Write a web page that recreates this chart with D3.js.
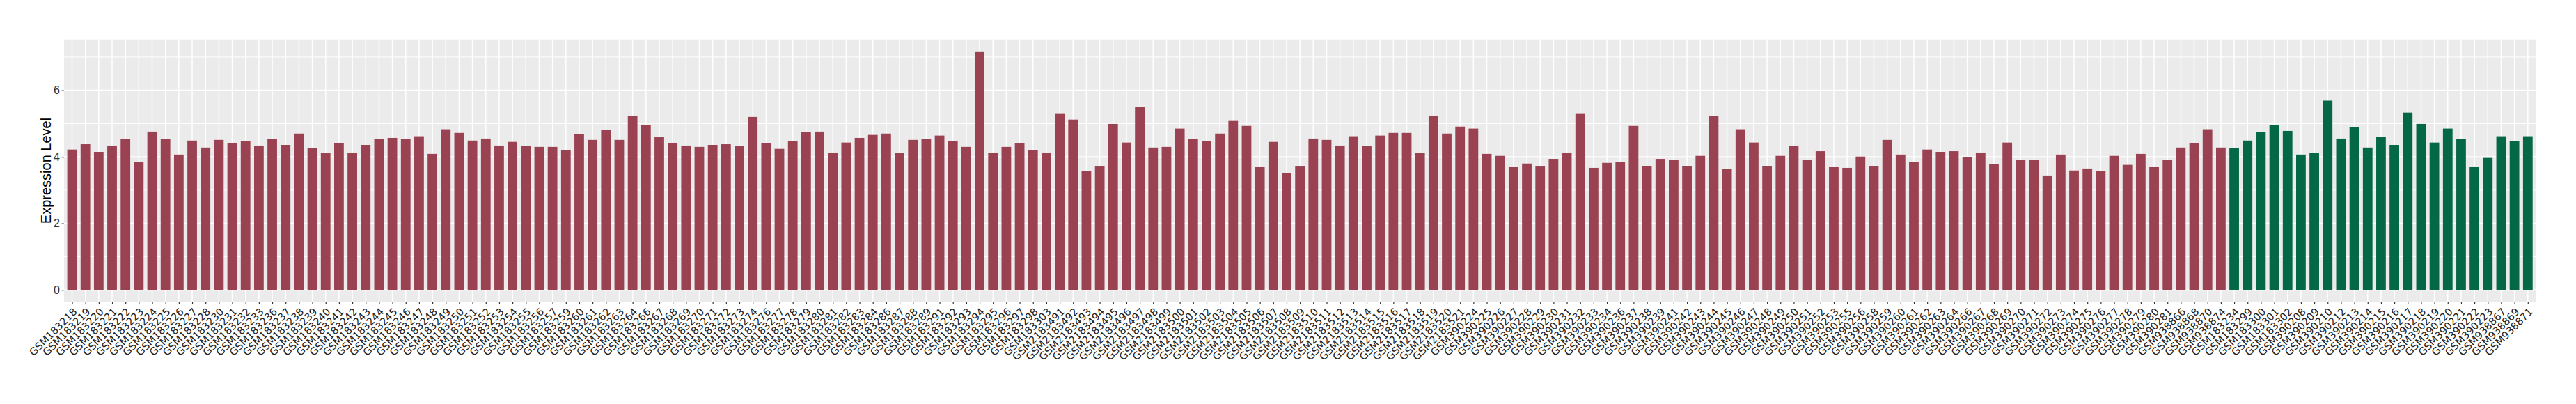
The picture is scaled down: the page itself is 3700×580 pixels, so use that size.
<!DOCTYPE html>
<html>
<head>
<meta charset="utf-8">
<script src="https://cdn.jsdelivr.net/npm/d3@7"></script>
<style>
  html, body { margin: 0; padding: 0; background: #ffffff; }
  #chart { width: 3700px; height: 580px; }
</style>
</head>
<body>
<div id="chart"></div>
<script>
// sample ids, in plot order
const samples = [
  'GSM183218', 'GSM183219', 'GSM183220', 'GSM183221', 'GSM183222', 'GSM183223', 'GSM183224', 'GSM183225',
  'GSM183226', 'GSM183227', 'GSM183228', 'GSM183230', 'GSM183231', 'GSM183232', 'GSM183233', 'GSM183236',
  'GSM183237', 'GSM183238', 'GSM183239', 'GSM183240', 'GSM183241', 'GSM183242', 'GSM183243', 'GSM183244',
  'GSM183245', 'GSM183246', 'GSM183247', 'GSM183248', 'GSM183249', 'GSM183250', 'GSM183251', 'GSM183252',
  'GSM183253', 'GSM183254', 'GSM183255', 'GSM183256', 'GSM183257', 'GSM183259', 'GSM183260', 'GSM183261',
  'GSM183262', 'GSM183263', 'GSM183264', 'GSM183266', 'GSM183267', 'GSM183268', 'GSM183269', 'GSM183270',
  'GSM183271', 'GSM183272', 'GSM183273', 'GSM183274', 'GSM183276', 'GSM183277', 'GSM183278', 'GSM183279',
  'GSM183280', 'GSM183281', 'GSM183282', 'GSM183283', 'GSM183284', 'GSM183286', 'GSM183287', 'GSM183288',
  'GSM183289', 'GSM183291', 'GSM183292', 'GSM183293', 'GSM183294', 'GSM183295', 'GSM183296', 'GSM183297',
  'GSM183298', 'GSM183303', 'GSM2183491', 'GSM2183492', 'GSM2183493', 'GSM2183494', 'GSM2183495', 'GSM2183496',
  'GSM2183497', 'GSM2183498', 'GSM2183499', 'GSM2183500', 'GSM2183501', 'GSM2183502', 'GSM2183503', 'GSM2183504',
  'GSM2183505', 'GSM2183506', 'GSM2183507', 'GSM2183508', 'GSM2183509', 'GSM2183510', 'GSM2183511', 'GSM2183512',
  'GSM2183513', 'GSM2183514', 'GSM2183515', 'GSM2183516', 'GSM2183517', 'GSM2183518', 'GSM2183519', 'GSM2183520',
  'GSM2183521', 'GSM390224', 'GSM390225', 'GSM390226', 'GSM390227', 'GSM390228', 'GSM390229', 'GSM390230',
  'GSM390231', 'GSM390232', 'GSM390233', 'GSM390234', 'GSM390236', 'GSM390237', 'GSM390238', 'GSM390239',
  'GSM390241', 'GSM390242', 'GSM390243', 'GSM390244', 'GSM390245', 'GSM390246', 'GSM390247', 'GSM390248',
  'GSM390249', 'GSM390250', 'GSM390251', 'GSM390252', 'GSM390253', 'GSM390255', 'GSM390256', 'GSM390258',
  'GSM390259', 'GSM390260', 'GSM390261', 'GSM390262', 'GSM390263', 'GSM390264', 'GSM390266', 'GSM390267',
  'GSM390268', 'GSM390269', 'GSM390270', 'GSM390271', 'GSM390272', 'GSM390273', 'GSM390274', 'GSM390275',
  'GSM390276', 'GSM390277', 'GSM390278', 'GSM390279', 'GSM390280', 'GSM390281', 'GSM938866', 'GSM938868',
  'GSM938870', 'GSM938874',
  'GSM183234', 'GSM183299', 'GSM183300', 'GSM183301', 'GSM183302', 'GSM390208', 'GSM390209', 'GSM390210',
  'GSM390212', 'GSM390213', 'GSM390214', 'GSM390215', 'GSM390216', 'GSM390217', 'GSM390218', 'GSM390219',
  'GSM390220', 'GSM390221', 'GSM390222', 'GSM390223', 'GSM938867', 'GSM938869', 'GSM938871'
];

// expression value per sample (same order)
const expression = [
  4.22, 4.38, 4.15, 4.34, 4.53, 3.84, 4.76, 4.53, 4.07, 4.49,
  4.28, 4.51, 4.41, 4.47, 4.34, 4.53, 4.36, 4.70, 4.26, 4.11,
  4.41, 4.13, 4.36, 4.53, 4.57, 4.53, 4.62, 4.09, 4.83, 4.72,
  4.49, 4.55, 4.34, 4.45, 4.32, 4.30, 4.30, 4.20, 4.68, 4.51,
  4.80, 4.51, 5.24, 4.95, 4.59, 4.41, 4.34, 4.30, 4.36, 4.38,
  4.32, 5.20, 4.41, 4.24, 4.47, 4.74, 4.76, 4.13, 4.43, 4.57,
  4.66, 4.70, 4.11, 4.51, 4.53, 4.64, 4.47, 4.30, 7.17, 4.13,
  4.30, 4.41, 4.20, 4.13, 5.31, 5.12, 3.57, 3.71, 4.99, 4.43,
  5.50, 4.28, 4.30, 4.85, 4.53, 4.47, 4.70, 5.10, 4.93, 3.69,
  4.45, 3.52, 3.71, 4.55, 4.51, 4.34, 4.62, 4.32, 4.64, 4.72,
  4.72, 4.11, 5.24, 4.70, 4.91, 4.85, 4.09, 4.03, 3.69, 3.80,
  3.71, 3.94, 4.13, 5.31, 3.67, 3.82, 3.84, 4.93, 3.73, 3.94,
  3.90, 3.73, 4.03, 5.22, 3.63, 4.83, 4.43, 3.73, 4.03, 4.32,
  3.92, 4.17, 3.69, 3.67, 4.01, 3.71, 4.51, 4.07, 3.84, 4.22,
  4.15, 4.17, 3.99, 4.13, 3.78, 4.43, 3.90, 3.92, 3.44, 4.07,
  3.59, 3.65, 3.57, 4.03, 3.76, 4.09, 3.69, 3.90, 4.28, 4.41,
  4.83, 4.28, 4.26, 4.49, 4.74, 4.95, 4.78, 4.07, 4.11, 5.69,
  4.55, 4.89, 4.28, 4.59, 4.36, 5.33, 4.99, 4.43, 4.85, 4.53,
  3.69, 3.97, 4.62, 4.47, 4.62
];

// two sample groups, listed in order: how many samples each has
const groupNames = ['Tumor', 'Normal'];
const groupCounts = [162, 23];
const groupColors = ['#9a4251', '#046847'];

const data = [];
let k = 0;
groupCounts.forEach((count, g) => {
  for (let j = 0; j < count; j++, k++) {
    data.push({ sample: samples[k], value: expression[k], group: groupNames[g] });
  }
});

const width = 3700;
const height = 580;
const margin = { top: 56.7, right: 57.7, bottom: 146.7, left: 92 };
const panelW = width - margin.left - margin.right;
const panelH = height - margin.top - margin.bottom;

const svg = d3.select('#chart')
  .append('svg')
  .attr('width', width)
  .attr('height', height)
  .style('background', '#ffffff');

const g = svg.append('g')
  .attr('transform', `translate(${margin.left},${margin.top})`);

// ggplot style expansion: 0.6 of a step on each side of a discrete axis
const x = d3.scalePoint()
  .domain(data.map(d => d.sample))
  .range([0, panelW])
  .padding(0.6);

// 5% expansion each way on the continuous axis
const maxVal = d3.max(data, d => d.value);
const y = d3.scaleLinear()
  .domain([-0.05 * maxVal, maxVal * 1.05])
  .range([panelH, 0]);

const color = d3.scaleOrdinal().domain(groupNames).range(groupColors);

// panel background
g.append('rect')
  .attr('width', panelW)
  .attr('height', panelH)
  .attr('fill', '#ebebeb');

const majorTicks = y.ticks(4).filter(t => t >= y.domain()[0] && t <= y.domain()[1]);
const minorTicks = y.ticks(8).filter(t => !majorTicks.includes(t) && t <= y.domain()[1]);

// minor grid
g.selectAll('.grid-minor')
  .data(minorTicks)
  .enter()
  .append('line')
  .attr('class', 'grid-minor')
  .attr('x1', 0)
  .attr('x2', panelW)
  .attr('y1', d => y(d))
  .attr('y2', d => y(d))
  .attr('stroke', '#ffffff')
  .attr('stroke-width', 1);

// major grid
g.selectAll('.grid-major')
  .data(majorTicks)
  .enter()
  .append('line')
  .attr('class', 'grid-major')
  .attr('x1', 0)
  .attr('x2', panelW)
  .attr('y1', d => y(d))
  .attr('y2', d => y(d))
  .attr('stroke', '#ffffff')
  .attr('stroke-width', 2);

g.selectAll('.grid-x')
  .data(data)
  .enter()
  .append('line')
  .attr('class', 'grid-x')
  .attr('x1', d => x(d.sample))
  .attr('x2', d => x(d.sample))
  .attr('y1', 0)
  .attr('y2', panelH)
  .attr('stroke', '#ffffff')
  .attr('stroke-width', 1.5);

// bars
const barW = x.step() * 0.72;
g.selectAll('.bar')
  .data(data)
  .enter()
  .append('rect')
  .attr('class', 'bar')
  .attr('x', d => x(d.sample) - barW / 2)
  .attr('width', barW)
  .attr('y', d => y(d.value))
  .attr('height', d => y(0) - y(d.value))
  .attr('fill', d => color(d.group));

// y axis
const yAxis = g.append('g')
  .call(d3.axisLeft(y).tickValues(majorTicks).tickSize(3.5).tickPadding(2.5).tickFormat(d3.format('d')));
yAxis.select('.domain').remove();
yAxis.selectAll('line').attr('stroke', '#333333').attr('stroke-width', 1.2);
yAxis.selectAll('text')
  .attr('fill', '#333333')
  .style('font-family', '"Liberation Sans", Arial, sans-serif')
  .style('font-size', '16px');

// x axis: labels at 45 degrees, top-right corner of each label at its tick
const xAxis = g.append('g')
  .attr('transform', `translate(0,${panelH})`)
  .call(d3.axisBottom(x).tickSize(3.5).tickPadding(0));
xAxis.select('.domain').remove();
xAxis.selectAll('line').attr('stroke', '#333333').attr('stroke-width', 1.2);
xAxis.selectAll('text')
  .attr('fill', '#222222')
  .attr('text-anchor', 'end')
  .attr('y', 0)
  .attr('dy', '0.72em')
  .attr('transform', 'translate(0,7.7) rotate(-45)')
  .style('font-family', '"DejaVu Sans", sans-serif')
  .style('font-size', '14.7px');

// y title
svg.append('text')
  .attr('transform', `translate(73,${margin.top + panelH / 2}) rotate(-90)`)
  .attr('text-anchor', 'middle')
  .style('font-family', '"Liberation Sans", Arial, sans-serif')
  .style('font-size', '20px')
  .attr('fill', '#000000')
  .text('Expression Level');
</script>
</body>
</html>
